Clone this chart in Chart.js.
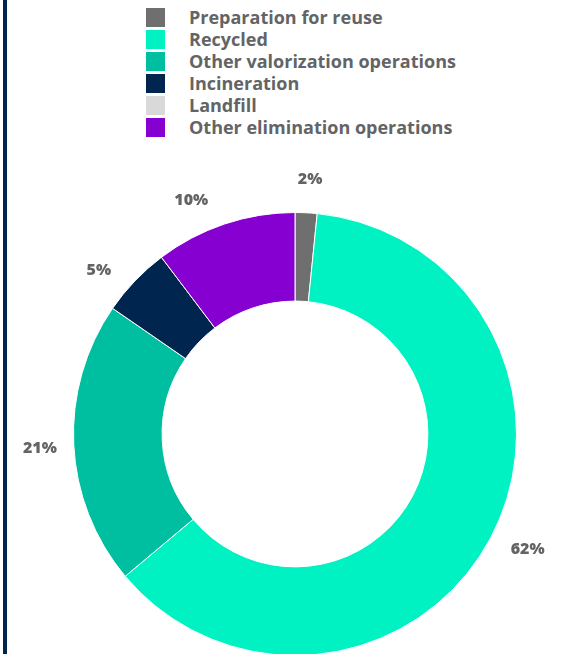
<!DOCTYPE html>
<html>
<head>
<meta charset="utf-8">
<script src="https://cdn.jsdelivr.net/npm/chart.js@4"></script>
<style>
  html, body { margin: 0; padding: 0; background: #fff; overflow: hidden; }
  body { width: 562px; height: 654px; position: relative; }
  .rule { position: absolute; left: 3px; top: 0; width: 4px; height: 654px; background: #002650; }
  #legend { position: absolute; left: 146px; top: 6px; margin: 0; padding: 0; list-style: none;
            font-family: "Open Sans", Roboto, sans-serif; font-weight: 700; font-size: 18px; color: #636466; }
  #legend li { height: 22px; display: flex; align-items: center; white-space: nowrap; }
  #legend .box { width: 19px; height: 19px; margin-right: 24px; flex: none; }
  #legend span.txt { line-height: 19px; }
  .wrap { position: absolute; left: 0; top: 0; width: 562px; height: 680px; }
</style>
</head>
<body>
<div class="rule"></div>
<ul id="legend"></ul>
<div class="wrap"><canvas id="donut"></canvas></div>
<script>
document.addEventListener("DOMContentLoaded", () => {

  // ── Data ────────────────────────────────────────────────
  const categories = [
    "Preparation for reuse",
    "Recycled",
    "Other valorization operations",
    "Incineration",
    "Landfill",
    "Other elimination operations"
  ];
  const shares = [1.6, 62.3, 20.7, 5.1, 0, 10.3];
  const colors = ["#6f6f6f", "#00f2c3", "#00bfa0", "#002650", "#d9d9d9", "#8700d2"];

  // label placement tweaks (degrees, along the ring) so text sits like the original
  const labelNudgeDeg = [0.5, -1.6, -0.5, -3.9, 0, -5.4];

  // ── HTML legend (one item per row) ──────────────────────
  const legend = document.getElementById("legend");
  categories.forEach((name, i) => {
    const li = document.createElement("li");
    const box = document.createElement("div");
    box.className = "box";
    box.style.background = colors[i];
    const txt = document.createElement("span");
    txt.className = "txt";
    txt.textContent = name;
    li.appendChild(box);
    li.appendChild(txt);
    legend.appendChild(li);
  });

  // Percent labels outside each slice
  const outsideLabels = {
    id: "outsideLabels",
    afterDatasetsDraw(chart) {
      const { ctx } = chart;
      const meta = chart.getDatasetMeta(0);
      const values = chart.data.datasets[0].data;
      const total = values.reduce((a, b) => a + b, 0);
      ctx.save();
      ctx.font = "800 16px 'Open Sans', sans-serif";
      ctx.fillStyle = "#636466";
      ctx.textAlign = "center";
      ctx.textBaseline = "middle";
      meta.data.forEach((arc, i) => {
        if (!values[i]) return;
        const p = arc.getProps(["x", "y", "startAngle", "endAngle", "outerRadius"], true);
        const mid = (p.startAngle + p.endAngle) / 2 + labelNudgeDeg[i] * Math.PI / 180;
        const r = p.outerRadius + (i === 1 ? 38 : 34);
        ctx.fillText(Math.round(values[i] / total * 100) + "%",
          p.x + Math.cos(mid) * r, p.y + Math.sin(mid) * r);
      });
      ctx.restore();
    }
  };

  new Chart(document.getElementById("donut"), {
    type: "doughnut",
    data: {
      labels: categories,
      datasets: [{
        data: shares,
        backgroundColor: colors,
        borderColor: "#ffffff",
        borderWidth: 1
      }]
    },
    options: {
      responsive: true,
      maintainAspectRatio: false,
      animation: false,
      cutout: "60%",
      layout: { padding: { left: 73, right: 45, top: 212, bottom: 24 } },
      plugins: {
        legend: { display: false },
        tooltip: { enabled: false }
      }
    },
    plugins: [outsideLabels]
  });
});
</script>
</body>
</html>
